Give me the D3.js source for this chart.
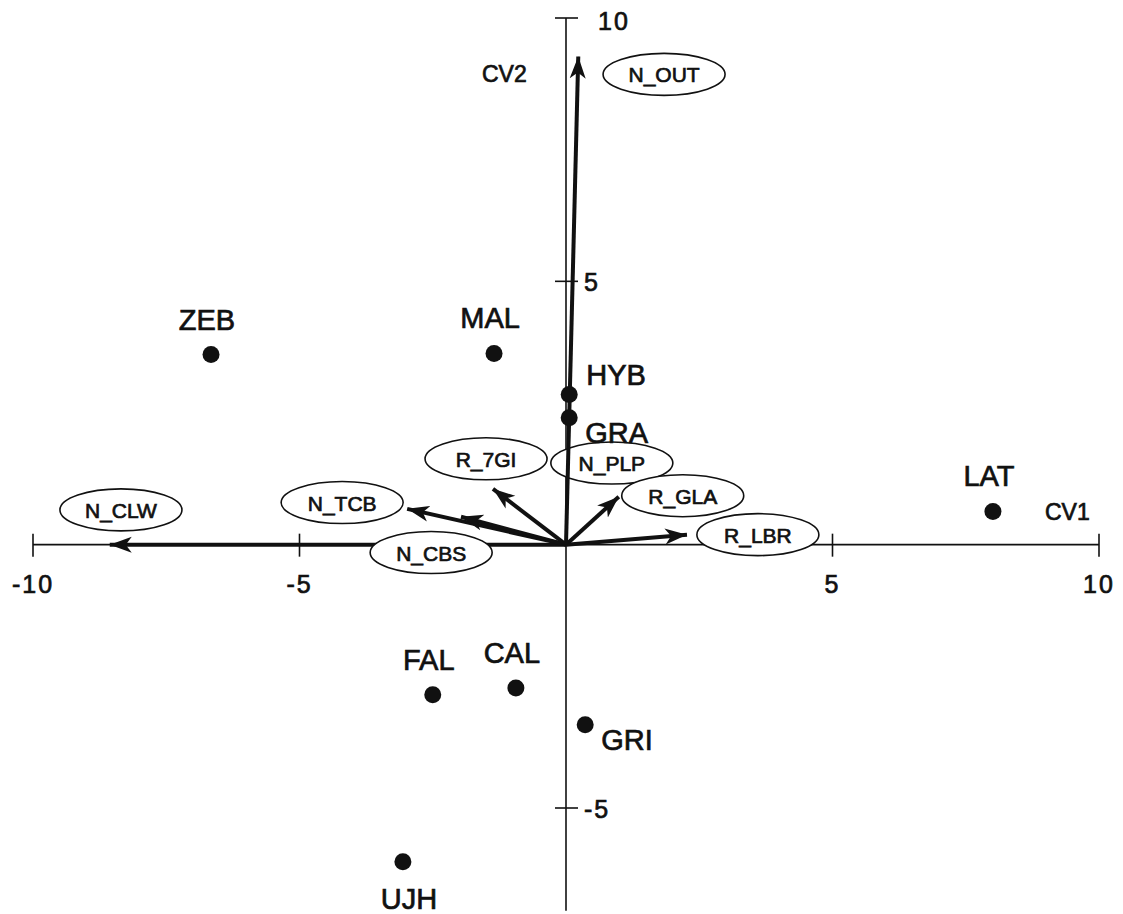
<!DOCTYPE html>
<html>
<head>
<meta charset="utf-8">
<script src="https://cdn.jsdelivr.net/npm/d3@7.9.0/dist/d3.min.js"></script>
<style>
  body { margin: 0; background: #fff; }
  svg { display: block; }
  text { font-family: "Liberation Sans", Arial, sans-serif; fill: #111; stroke: #111; stroke-width: 0.7px; }
</style>
</head>
<body>
<svg id="plot" width="1123" height="914"></svg>
<script>
// group centroids (CV1, CV2)
const groups = ["ZEB", "MAL", "HYB", "GRA", "LAT", "FAL", "CAL", "GRI", "UJH"];
const groupCV1 = [-6.66, -1.35, 0.06, 0.06, 8.01, -2.5, -0.94, 0.36, -3.06];
const groupCV2 = [3.61, 3.63, 2.85, 2.41, 0.63, -2.85, -2.72, -3.42, -6.02];
// where each group label sits relative to its dot
const groupLabelSide = ["above", "above", "right", "rightBelow", "above", "above", "above", "rightBelow", "below"];

// variable vectors
const variables = ["N_OUT", "N_CLW", "N_TCB", "N_CBS", "R_7GI", "R_GLA", "R_LBR"];
const varCV1 = [0.23, -8.56, -2.98, -1.97, -1.37, 0.99, 2.27];
const varCV2 = [9.27, 0, 0.68, 0.53, 1.06, 0.91, 0.19];

// oval labels (centre in chart units)
const ovals = ["N_OUT", "N_CLW", "N_TCB", "N_CBS", "R_7GI", "N_PLP", "R_GLA", "R_LBR"];
const ovalCV1 = [1.84, -8.35, -4.2, -2.53, -1.5, 0.86, 2.19, 3.6];
const ovalCV2 = [8.93, 0.66, 0.8, -0.15, 1.63, 1.55, 0.93, 0.19];

const xTicks = [-10, -5, 5, 10];
const yTicks = [10, 5, -5];

const svg = d3.select("#plot");
const x = d3.scaleLinear().domain([-10, 10]).range([33, 1099]);
const y = d3.scaleLinear().domain([-5, 10]).range([808, 18]);

// axes
const ax = svg.append("g").attr("stroke", "#111").attr("stroke-width", 1.6);
ax.append("line").attr("x1", x(-10)).attr("x2", x(10)).attr("y1", y(0)).attr("y2", y(0));
ax.append("line").attr("x1", x(0)).attr("x2", x(0)).attr("y1", y(10)).attr("y2", y(-6.95));
ax.selectAll(".xt").data(xTicks).join("line")
  .attr("x1", d => x(d)).attr("x2", d => x(d))
  .attr("y1", y(0) - 11).attr("y2", y(0) + 12);
ax.selectAll(".yt").data(yTicks).join("line")
  .attr("x1", x(0) - 11).attr("x2", x(0) + 12)
  .attr("y1", d => y(d)).attr("y2", d => y(d));

svg.selectAll(".xl").data(xTicks).join("text")
  .attr("x", d => x(d)).attr("y", y(0) + 48)
  .attr("text-anchor", "middle").attr("font-size", 25).attr("letter-spacing", 2)
  .text(d => d);
svg.selectAll(".yl").data(yTicks).join("text")
  .attr("x", d => x(0) + (d === 10 ? 32 : 18)).attr("y", d => y(d) + (d === 10 ? 12 : 10))
  .attr("font-size", 25).attr("letter-spacing", 2)
  .text(d => d);

svg.append("text").attr("x", 1045).attr("y", y(0) - 25).attr("font-size", 23).text("CV1");
svg.append("text").attr("x", 482).attr("y", 82).attr("font-size", 23).text("CV2");

// arrowheads
svg.append("defs").append("marker")
  .attr("id", "head").attr("markerUnits", "userSpaceOnUse")
  .attr("viewBox", "-22 -9 24 18").attr("refX", 0).attr("refY", 0)
  .attr("markerWidth", 24).attr("markerHeight", 18).attr("orient", "auto")
  .append("path").attr("d", "M0,0 L-22,-8 L-16,0 L-22,8 Z").attr("fill", "#111");

const vec = variables.map((v, i) => ({ name: v, cx: varCV1[i], cy: varCV2[i] }));

function drawArrows(g, data) {
  g.selectAll("line").data(data).join("line")
    .attr("x1", x(0)).attr("y1", y(0))
    .attr("x2", d => x(d.cx)).attr("y2", d => y(d.cy))
    .attr("stroke", "#111").attr("stroke-width", 4)
    .attr("marker-end", "url(#head)");
}
drawArrows(svg.append("g"), vec.filter(d => d.name !== "N_OUT"));

// ovals with variable names
const ov = svg.append("g").selectAll("g")
  .data(ovals.map((o, i) => ({ name: o, cx: ovalCV1[i], cy: ovalCV2[i] })))
  .join("g").attr("transform", d => `translate(${x(d.cx)},${y(d.cy)})`);
ov.append("ellipse").attr("rx", 61).attr("ry", 21)
  .attr("fill", "#fff").attr("stroke", "#111").attr("stroke-width", 1.6);
ov.append("text").attr("text-anchor", "middle").attr("y", 8)
  .attr("font-size", 21).text(d => d.name);

drawArrows(svg.append("g"), vec.filter(d => d.name === "N_OUT"));

// group centroids
const pts = groups.map((g, i) => ({ name: g, cx: groupCV1[i], cy: groupCV2[i], side: groupLabelSide[i] }));
svg.append("g").selectAll("circle").data(pts).join("circle")
  .attr("cx", d => x(d.cx)).attr("cy", d => y(d.cy)).attr("r", 8.5).attr("fill", "#111");

const off = {
  above: { dx: -4, dy: -25, anchor: "middle" },
  right: { dx: 17, dy: -10, anchor: "start" },
  rightBelow: { dx: 16, dy: 25, anchor: "start" },
  below: { dx: 6, dy: 47, anchor: "middle" }
};
svg.append("g").selectAll("text").data(pts).join("text")
  .attr("x", d => x(d.cx) + off[d.side].dx)
  .attr("y", d => y(d.cy) + off[d.side].dy)
  .attr("text-anchor", d => off[d.side].anchor)
  .attr("font-size", 29)
  .text(d => d.name);
</script>
</body>
</html>
